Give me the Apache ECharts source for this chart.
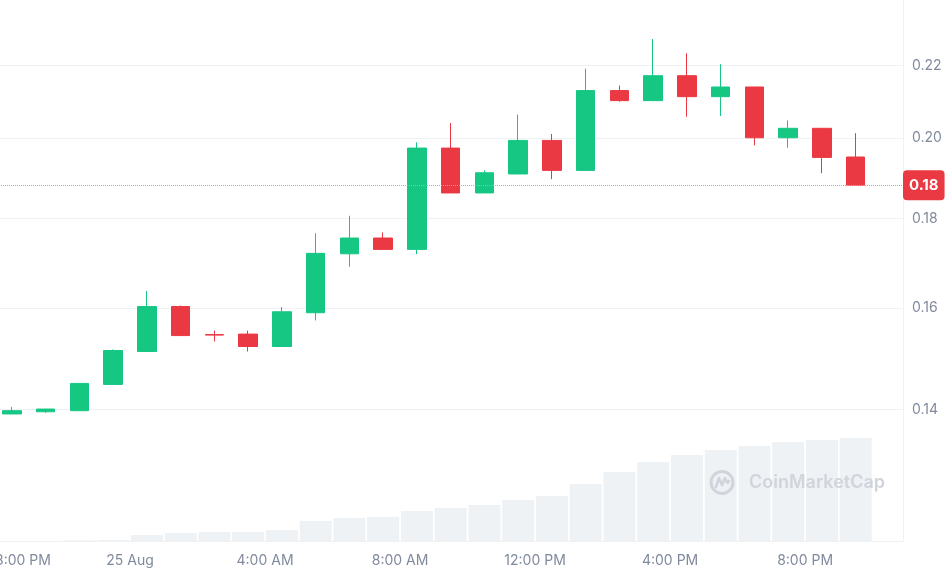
<!DOCTYPE html>
<html><head><meta charset="utf-8">
<script src="https://cdn.jsdelivr.net/npm/echarts@6/dist/echarts.min.js"></script>
<style>html,body{margin:0;padding:0;background:#fff}#c{width:947px;height:575px}</style>
</head><body><div id="c"></div>
<script>
// hours since 24 Aug 00:00 (candle centres)
const candleHours = [20.5,21.5,22.5,23.5,24.5,25.5,26.5,27.5,28.5,29.5,30.5,31.5,32.5,33.5,34.5,35.5,36.5,37.5,38.5,39.5,40.5,41.5,42.5,43.5,44.5,45.5];
const openP  = [0.1392,0.1396,0.1398,0.1447,0.1511,0.1603,0.1545,0.1546,0.1521,0.1590,0.1718,0.1754,0.1728,0.1974,0.1861,0.1908,0.1994,0.1917,0.2129,0.2101,0.2171,0.2112,0.2139,0.2001,0.2026,0.1951];
const closeP = [0.1398,0.1401,0.1449,0.1513,0.1603,0.1543,0.1544,0.1521,0.1592,0.1719,0.1754,0.1728,0.1974,0.1861,0.1911,0.1994,0.1917,0.2129,0.2101,0.2171,0.2112,0.2139,0.2001,0.2026,0.1950,0.1880];
const lowP   = [0.1392,0.1394,0.1398,0.1447,0.1511,0.1543,0.1531,0.1511,0.1521,0.1574,0.1689,0.1728,0.1717,0.1861,0.1861,0.1908,0.1895,0.1917,0.2098,0.2101,0.2057,0.2059,0.1981,0.1975,0.1910,0.1880];
const highP  = [0.1405,0.1401,0.1449,0.1515,0.1636,0.1605,0.1553,0.1553,0.1602,0.1765,0.1806,0.1767,0.1989,0.2040,0.1917,0.2063,0.2011,0.2191,0.2143,0.2278,0.2236,0.2204,0.2139,0.2047,0.2026,0.2013];
const volume = [0,0,0.8,1,6,8,9,9,11,20,23,24,30,33,36,41,45,57,69,79,86,91,95,99,101,103];
const priceTicks = [0.14,0.16,0.18,0.20,0.22];
const tickHours  = [20,24,28,32,36,40,44];
const tickLabels = ['8:00 PM','25 Aug','4:00 AM','8:00 AM','12:00 PM','4:00 PM','8:00 PM'];

const UP = '#16c784', DOWN = '#ea3943', AXIS = '#808a9d', GRID = '#eff2f5', MARK = '#d0d4db';
const candles = candleHours.map((h,i)=>[h, openP[i], closeP[i], lowP[i], highP[i]]);
const vols = candleHours.map((h,i)=>[h, volume[i]]);
const lastClose = closeP[closeP.length-1];
const lastLabel = (Math.floor(lastClose*100)/100).toFixed(2);

const chart = echarts.init(document.getElementById('c'), null, {renderer:'canvas'});
chart.setOption({
  animation:false,
  backgroundColor:'#ffffff',
  textStyle:{fontFamily:'Inter, "Noto Sans", sans-serif'},
  grid:[
    {left:-5, right:44, top:0, height:541, containLabel:false, outerBoundsMode:'none'},
    {left:-5, right:44, top:391, height:150, containLabel:false, outerBoundsMode:'none'}
  ],
  xAxis:[
    {type:'value', gridIndex:0, min:20, max:46.9, interval:4,
     axisLine:{show:true, lineStyle:{color:GRID}}, axisTick:{show:false}, splitLine:{show:false},
     axisLabel:{color:AXIS, fontSize:14, margin:13, showMaxLabel:false, hideOverlap:false, alignMinLabel:'left',
       formatter:v=>{const k=tickHours.indexOf(Math.round(v*1000)/1000); return k<0?'':tickLabels[k];}}},
    {type:'value', gridIndex:1, min:20, max:46.9, show:false}
  ],
  yAxis:[
    {type:'log', gridIndex:0, position:'right', min:0.1178, max:0.2398, logBase:10,
     axisLine:{show:true, lineStyle:{color:GRID}}, axisTick:{show:false, customValues:priceTicks},
     splitLine:{show:true, lineStyle:{color:GRID, width:1}},
     axisLabel:{color:AXIS, fontSize:14, margin:9, customValues:priceTicks, formatter:v=>Number(v).toFixed(2)}},
    {type:'value', gridIndex:1, min:0, max:150, show:false}
  ],
  series:[
    {type:'bar', xAxisIndex:1, yAxisIndex:1, data:vols, barWidth:32,
     itemStyle:{color:'#eff2f5'}, silent:true},
    {type:'candlestick', xAxisIndex:0, yAxisIndex:0, data:candles, encode:{x:0, y:[1,2,3,4]},
     barWidth:19,
     itemStyle:{color:UP, color0:DOWN, borderColor:UP, borderColor0:DOWN, borderWidth:1},
     markLine:{symbol:'none', silent:true, precision:6,
       lineStyle:{type:'dotted', color:'#a7afbd', width:1},
       label:{position:'end', distance:0, formatter:()=>lastLabel,
         backgroundColor:DOWN, color:'#fff', fontWeight:'bold', fontSize:15,
         padding:[8,6,7,6], borderRadius:4},
       data:[{yAxis:lastClose}]}}
  ],
  graphic:[
    {type:'circle', z:100, silent:true, shape:{cx:722, cy:482.5, r:11}, style:{fill:null, stroke:MARK, lineWidth:3}},
    {type:'polyline', z:100, silent:true, shape:{points:[[715.5,488],[719,478],[722,485],[725,478],[727.5,483],[729.5,480]]}, style:{fill:null, stroke:MARK, lineWidth:2.6, lineJoin:'round'}},
    {type:'text', z:100, silent:true, x:749, y:483,
     style:{text:'CoinMarketCap', fill:MARK, font:'600 18px Inter, sans-serif', verticalAlign:'middle', align:'left'}}
  ]
});
</script></body></html>
